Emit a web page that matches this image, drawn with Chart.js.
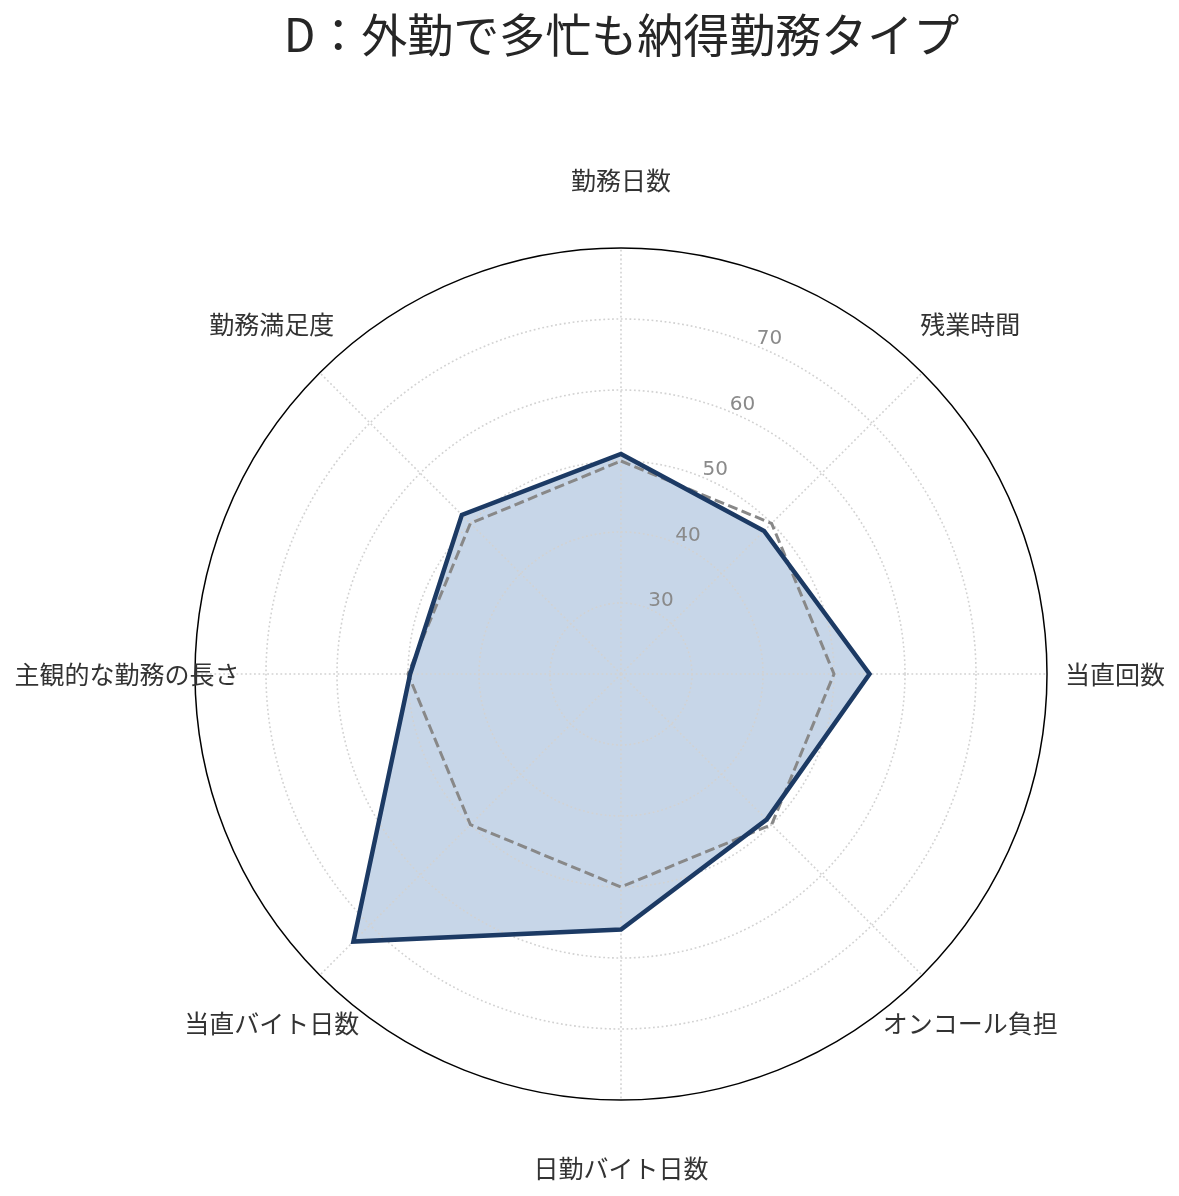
<!DOCTYPE html>
<html lang="ja">
<head>
<meta charset="utf-8">
<title>D：外勤で多忙も納得勤務タイプ</title>
<script src="https://cdn.jsdelivr.net/npm/chart.js@4.4.1/dist/chart.umd.min.js"></script>
<style>
  html, body { margin: 0; padding: 0; background: #fff; }
  #wrap { width: 1179px; height: 1196px; }
</style>
</head>
<body>
<div id="wrap"><canvas id="radar" width="1179" height="1196"></canvas></div>
<script>
const categories = ["勤務日数", "残業時間", "当直回数", "オンコール負担", "日勤バイト日数", "当直バイト日数", "主観的な勤務の長さ", "勤務満足度"];
const typeD = [51, 48.5, 55, 49, 56, 73.3, 49.7, 51.7];
const average = [50, 50, 50, 50, 50, 50, 50, 50];
const tickLabels = [30, 40, 50, 60, 70];

const jpFont = "'Noto Sans CJK JP', 'DejaVu Sans', sans-serif";

// tick numbers sit at 22.5deg off the top axis, like matplotlib's default
const tickLabelPlugin = {
  id: "tickLabelPlugin",
  afterDatasetsDraw(chart) {
    const scale = chart.scales.r;
    const ctx = chart.ctx;
    const angle = -Math.PI / 2 + Math.PI / 8;
    ctx.save();
    ctx.font = "20px 'DejaVu Sans', sans-serif";
    ctx.fillStyle = "#8a8a8a";
    ctx.textAlign = "left";
    ctx.textBaseline = "alphabetic";
    for (let t of tickLabels) {
      const d = scale.getDistanceFromCenterForValue(t);
      const x = scale.xCenter + Math.cos(angle) * d;
      const y = scale.yCenter + Math.sin(angle) * d;
      ctx.fillText(String(t), x, y - 2);
    }
    ctx.restore();
  },
};

// category names centred just outside the outer ring
const pointLabelPlugin = {
  id: "pointLabelPlugin",
  afterDatasetsDraw(chart) {
    const scale = chart.scales.r;
    const ctx = chart.ctx;
    ctx.save();
    ctx.font = "25px " + jpFont;
    ctx.fillStyle = "#333333";
    ctx.textAlign = "center";
    ctx.textBaseline = "middle";
    for (let i = 0; i < categories.length; i++) {
      const p = scale.getPointPosition(i, scale.drawingArea + 68);
      ctx.fillText(categories[i], p.x, p.y);
    }
    ctx.restore();
  },
};

const data = {
  labels: categories,
  datasets: [
    {
      label: "D",
      data: typeD,
      borderColor: "#1c3a64",
      borderWidth: 4.5,
      backgroundColor: "rgba(70, 120, 180, 0.3)",
      fill: true,
      pointRadius: 0,
      borderJoinStyle: "miter",
    },
    {
      label: "平均",
      data: average,
      borderColor: "#888888",
      borderWidth: 3,
      borderDash: [10, 4.5],
      fill: false,
      pointRadius: 0,
    },
  ],
};

const config = {
  type: "radar",
  data: data,
  options: {
    responsive: false,
    animation: false,
    devicePixelRatio: 1,
    layout: {
      padding: { left: 195, right: 131, top: 7, bottom: 95 },
    },
    plugins: {
      legend: { display: false },
      tooltip: { enabled: false },
      filler: { drawTime: "beforeDraw" },
      title: {
        display: true,
        text: "D：外勤で多忙も納得勤務タイプ",
        color: "#262626",
        font: { family: jpFont, size: 46, weight: "normal", lineHeight: 1.2 },
        padding: { top: 0, bottom: 185.8 },
      },
    },
    scales: {
      r: {
        min: 20,
        max: 80,
        beginAtZero: false,
        ticks: { display: false, stepSize: 10 },
        pointLabels: { display: false },
        angleLines: {
          color: "#d2d2d2",
          lineWidth: 1.6,
          borderDash: [1.8, 2.6],
        },
        grid: {
          circular: true,
          color: (c) => (c.tick && c.tick.value === 80 ? "#000000" : "#d2d2d2"),
          lineWidth: (c) => (c.tick && c.tick.value === 80 ? 1.5 : 1.6),
        },
        border: {
          dash: (c) => (c.tick && c.tick.value === 80 ? [] : [1.8, 2.6]),
        },
      },
    },
  },
  plugins: [tickLabelPlugin, pointLabelPlugin],
};

new Chart(document.querySelector("#radar"), config);
</script>
</body>
</html>
